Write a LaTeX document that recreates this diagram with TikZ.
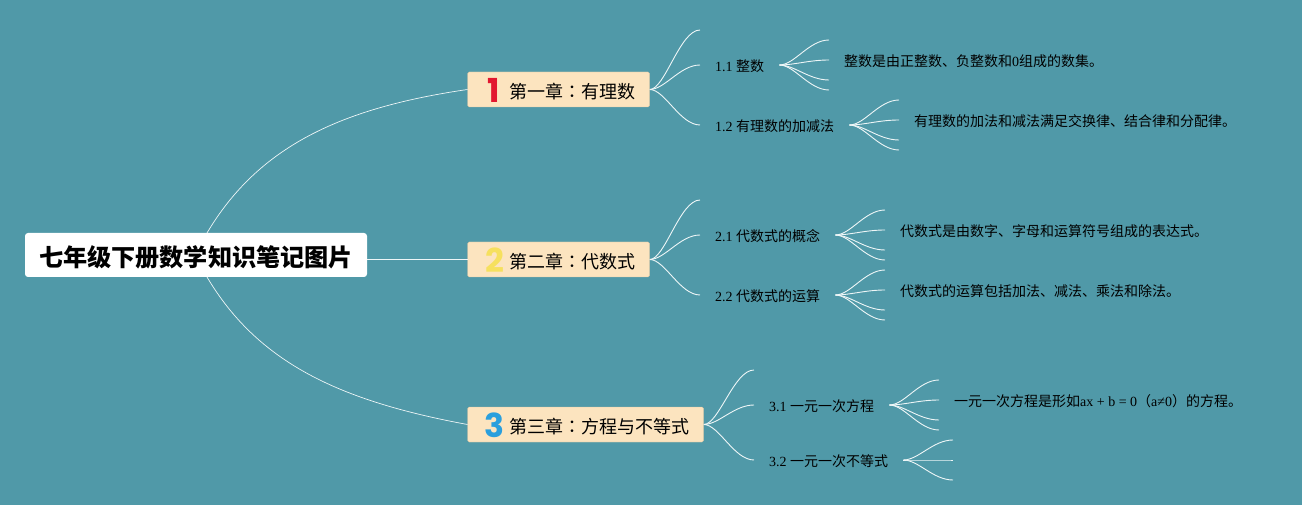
\documentclass[tikz,border=0pt]{standalone}
\usepackage{fontspec}
\usetikzlibrary{calc}
\setmainfont{Liberation Serif}
\newfontfamily\cjk{Noto Sans CJK SC}
\newfontfamily\cjktc{Noto Sans CJK TC}
\newfontfamily\badgefont{Poppins}
\definecolor{bgc}{HTML}{5099A8}
\definecolor{chapc}{HTML}{FCE4BF}
\definecolor{linec}{HTML}{EEF6F7}
\definecolor{badgered}{HTML}{E2172F}
\definecolor{badgeyellow}{HTML}{F6E05E}
\definecolor{badgeblue}{HTML}{2A9FDD}
\newcommand{\colonc}{{\cjktc ：}}
\tikzset{
 rootbox/.style={fill=white,rounded corners=3pt,minimum width=342pt,minimum height=44pt,inner sep=0pt,text height=26.2pt,text depth=4pt,font=\cjk\bfseries\fontsize{24.15}{26}\selectfont},
 chapbox/.style={fill=chapc,draw=chapc!85!black,line width=.3pt,rounded corners=1.5pt,minimum height=35pt,inner sep=0pt,anchor=west},
 chaptext/.style={anchor=west,inner sep=0pt,font=\cjk\fontsize{18}{20}\selectfont},
 secnode/.style={anchor=west,inner xsep=15pt,inner ysep=2pt,text height=14.6pt,text depth=2pt,font=\fontsize{14}{16}\selectfont},
 leafnode/.style={secnode},
 link/.style={draw=linec,line width=.7pt},
 fan/.style={draw=linec,line width=.9pt},
 badge/.style={font=\badgefont\bfseries\fontsize{33}{33}\selectfont,inner sep=0pt},
}
\newcommand{\fancurve}[2]{\draw[fan] (#1) .. controls ($(#1)+(15pt,0pt)$) and ($(#2)+(-20pt,0pt)$) .. (#2);}
\begin{document}
\begin{tikzpicture}[x=1pt,y=-1pt]
\useasboundingbox[fill=bgc] (0,0) rectangle (1302,505);
% root and chapters
\node[rootbox] (root) at (196,255) {七年级下册数学知识笔记图片};
\node[chapbox,minimum width=182pt] (c1) at (467.5,89.5) {};
\node[chapbox,minimum width=182pt] (c2) at (467.5,259.5) {};
\node[chapbox,minimum width=236pt] (c3) at (467.5,424.5) {};
\node[chaptext] (t1) at (509,92) {第一章\colonc 有理数};
\node[chaptext] (t2) at (509,262) {第二章\colonc 代数式};
\node[chaptext] (t3) at (509,427) {第三章\colonc 方程与不等式};
\node[badge,text=badgered] (b1) at (494,90) {1};
\node[badge,text=badgeyellow] (b2) at (494.5,260) {2};
\node[badge,text=badgeblue] (b3) at (494.5,425) {3};
% sections
\node[secnode] (s11) at (700,65) {1.1 {\cjk 整数}};
\node[secnode] (s12) at (700,125) {1.2 {\cjk 有理数的加减法}};
\node[secnode] (s21) at (700,235) {2.1 {\cjk 代数式的概念}};
\node[secnode] (s22) at (700,295) {2.2 {\cjk 代数式的运算}};
\node[secnode] (s31) at (754,405) {3.1 {\cjk 一元一次方程}};
\node[secnode] (s32) at (754,460) {3.2 {\cjk 一元一次不等式}};
% leaves
\node[leafnode] (l11) at (829,60) {\cjk 整数是由正整数、负整数和{\rmfamily 0}组成的数集。};
\node[leafnode] (l12) at (899,120) {\cjk 有理数的加法和减法满足交换律、结合律和分配律。};
\node[leafnode] (l21) at (885,230) {\cjk 代数式是由数字、字母和运算符号组成的表达式。};
\node[leafnode] (l22) at (885,290) {\cjk 代数式的运算包括加法、减法、乘法和除法。};
\node[leafnode] (l31) at (939,400) {\cjk 一元一次方程是形如{\rmfamily ax + b = 0}（{\rmfamily a≠0}）的方程。};
% free ends
\coordinate (e1) at (700,30); \coordinate (e2) at (700,200); \coordinate (e3) at (754,370);
\coordinate (a1) at (829,40); \coordinate (a2) at (829,80); \coordinate (a3) at (829,90);
\coordinate (k1) at (899,100); \coordinate (k2) at (899,140); \coordinate (k3) at (899,150);
\coordinate (d1) at (885,210); \coordinate (d2) at (885,250); \coordinate (d3) at (885,260);
\coordinate (f1) at (885,270); \coordinate (f2) at (885,310); \coordinate (f3) at (885,320);
\coordinate (g1) at (939,380); \coordinate (g2) at (939,420); \coordinate (g3) at (939,430);
\coordinate (h1) at (953,440); \coordinate (h2) at (953,460); \coordinate (h3) at (953,480);
\coordinate (rt) at (207,233); \coordinate (rb) at (207,277); \coordinate (rm) at (367,259.5);
% links from root
\draw[link] (rt) .. controls (258,147) and (340,108) .. (c1.west);
\draw[link] (rm) -- (c2.west);
\draw[link] (rb) .. controls (258,363) and (340,401) .. (c3.west);
% fans
\foreach \a/\b in {c1.east/e1,c1.east/s11.west,c1.east/s12.west,c2.east/e2,c2.east/s21.west,c2.east/s22.west,c3.east/e3,c3.east/s31.west,c3.east/s32.west,
 s11.east/a1,s11.east/l11.west,s11.east/a2,s11.east/a3,
 s12.east/k1,s12.east/l12.west,s12.east/k2,s12.east/k3,
 s21.east/d1,s21.east/l21.west,s21.east/d2,s21.east/d3,
 s22.east/f1,s22.east/l22.west,s22.east/f2,s22.east/f3,
 s31.east/g1,s31.east/l31.west,s31.east/g2,s31.east/g3,
 s32.east/h1,s32.east/h2,s32.east/h3}{
  \fancurve{\a}{\b}
}
\end{tikzpicture}
\end{document}
